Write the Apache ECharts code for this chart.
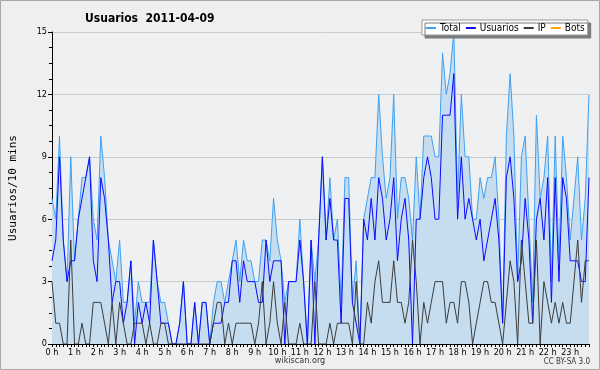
<!DOCTYPE html>
<html>
<head>
<meta charset="utf-8">
<script src="https://cdn.jsdelivr.net/npm/echarts@6/dist/echarts.min.js"></script>
<style>
html,body{margin:0;padding:0;background:#efefef;}
#chart{width:600px;height:370px;}
</style>
</head>
<body>
<div id="chart"></div>
<script>
const hourLabels = ['0 h','1 h','2 h','3 h','4 h','5 h','6 h','7 h','8 h','9 h','10 h','11 h','12 h','13 h','14 h','15 h','16 h','17 h','18 h','19 h','20 h','21 h','22 h','23 h'];
const yTicks = [0, 3, 6, 9, 12, 15];

const total = [
 7,6,10,5,3,9,4,6,8,8, 9,6,5,10,8,5,4,3,5,2, 2,4,1,3,2,2,2,5,3,2,
 2,1,0,0,1,3,0,0,2,0, 2,2,0,2,3,3,2,3,4,5, 3,5,4,4,3,3,5,5,4,7,
 5,4,2,3,3,3,6,3,0,5, 3,5,9,5,8,5,6,2,8,8, 2,4,0,6,7,8,8,12,9,7,
 8,12,6,8,8,7,5,9,6,10, 10,10,9,9,14,12,13,15,7,12, 9,9,6,6,8,7,8,8,9,6,
 1,10,13,10,3,9,10,6,2,11, 7,8,10,3,10,4,10,8,5,7, 9,5,7,12
];
const usuarios = [
 4,5,9,5,3,4,4,6,7,8, 9,4,3,8,7,5,2,3,3,1, 2,4,0,2,1,2,1,5,3,1,
 1,1,0,0,1,3,0,0,2,0, 2,2,0,1,1,1,2,2,4,4, 2,4,3,3,3,2,2,5,3,4,
 4,4,0,3,3,3,5,3,0,5, 0,5,9,5,7,5,5,1,7,7, 2,1,0,6,5,7,5,8,7,5,
 6,8,4,6,7,5,0,6,6,8, 9,8,6,6,11,11,11,13,6,9, 6,7,6,5,6,4,5,6,7,5,
 1,8,9,7,3,4,7,5,1,6, 7,5,8,2,8,3,8,7,4,4, 4,3,3,8
];
const ip = [
 3,1,1,0,0,5,0,0,1,0, 0,2,2,2,1,0,2,0,2,1, 0,0,1,1,1,0,1,0,0,1,
 1,0,0,0,0,0,0,0,0,0, 0,0,0,1,2,2,0,1,0,1, 1,1,1,1,0,1,3,0,1,3,
 1,0,2,0,0,0,1,0,0,0, 3,0,0,0,1,0,1,1,1,1, 0,3,0,0,2,1,3,4,2,2,
 2,4,2,2,1,2,5,3,0,2, 1,2,3,3,3,1,2,2,1,3, 3,2,0,1,2,3,3,2,2,1,
 0,2,4,3,0,5,3,1,1,5, 0,3,2,1,2,1,2,1,1,3, 5,2,4,4
];
const bots = [
 0,0,0,0,0,0,0,0,0,0, 0,0,0,0,0,0,0,0,0,0, 0,0,0,0,0,0,0,0,0,0,
 0,0,0,0,0,0,0,0,0,0, 0,0,0,0,0,0,0,0,0,0, 0,0,0,0,0,0,0,0,0,0,
 0,0,0,0,0,0,0,0,0,0, 0,0,0,0,0,0,0,0,0,0, 0,0,0,0,0,0,0,0,0,0,
 0,0,0,0,0,0,0,0,0,0, 0,0,0,0,0,0,0,0,0,0, 0,0,0,0,0,0,0,0,0,0,
 0,0,0,0,0,0,0,0,0,0, 0,0,0,0,0,0,0,0,0,0, 0,0,0,0
];

// 10-minute slots, one category per slot
const slots = [];
hourLabels.forEach(function (h, hi) {
  for (let m = 0; m < 6; m++) slots.push(hi + ':' + m + '0');
});

const chart = echarts.init(document.getElementById('chart'), null, {renderer: 'canvas'});
const font = "'DejaVu Sans Condensed', 'Liberation Sans', sans-serif";
chart.setOption({
  animation: false,
  backgroundColor: '#efefef',
  title: {
    text: 'Usuarios  2011-04-09',
    left: 80, top: 8,
    textStyle: {fontFamily: font, fontWeight: 'bold', fontSize: 12, color: '#000'}
  },
  legend: {
    data: ['Total', 'Usuarios', 'IP', 'Bots'],
    left: 422, top: 20, width: 200,
    padding: [3, 3, 2, 3],
    itemGap: 4, itemWidth: 10, itemHeight: 2,
    backgroundColor: '#fff',
    borderColor: '#999', borderWidth: 1,
    shadowColor: '#7a7a7a', shadowOffsetX: 3, shadowOffsetY: 3, shadowBlur: 0,
    textStyle: {fontFamily: font, fontSize: 10, color: '#000', padding: [0, 0, 0, -1]}
  },
  grid: {left: 46, right: 11, top: 32, bottom: 26, show: true, backgroundColor: '#eef0f2', borderWidth: 0},
  xAxis: {
    type: 'category',
    data: slots,
    boundaryGap: false,
    z: 10,
    axisLine: {show: true, lineStyle: {color: '#000', width: 1}},
    axisTick: {show: true, interval: 0, length: 3, lineStyle: {color: '#000'}},
    axisLabel: {
      interval: 5, margin: 4,
      fontFamily: font, fontSize: 9, color: '#000',
      formatter: function (v, idx) { return hourLabels[Math.round(idx / 6)]; }
    },
    splitLine: {show: false}
  },
  yAxis: {
    type: 'value',
    min: yTicks[0], max: yTicks[yTicks.length - 1], interval: 3,
    name: 'Usuarios/10 mins',
    nameLocation: 'middle',
    nameGap: 33,
    nameRotate: 90,
    nameTextStyle: {fontFamily: 'DejaVu Sans Mono', fontSize: 11, color: '#000'},
    axisLine: {show: true, lineStyle: {color: '#000', width: 1}},
    axisTick: {show: true, length: 4, lineStyle: {color: '#000'}},
    minorTick: {show: true, splitNumber: 4, length: 3, lineStyle: {color: '#000'}},
    axisLabel: {fontFamily: font, fontSize: 9, color: '#000', margin: 5},
    splitLine: {show: true, lineStyle: {color: '#cacaca', width: 1}}
  },
  series: [
    {name: 'Total', type: 'line', data: total, symbol: 'none', z: 2,
     lineStyle: {color: '#3fa0f0', width: 1}, itemStyle: {color: '#3fa0f0'},
     areaStyle: {color: '#c6ddf0', opacity: 1}},
    {name: 'Usuarios', type: 'line', data: usuarios, symbol: 'none', z: 3,
     lineStyle: {color: '#0a0aff', width: 1}, itemStyle: {color: '#0a0aff'}},
    {name: 'IP', type: 'line', data: ip, symbol: 'none', z: 4,
     lineStyle: {color: '#3c3c3c', width: 1}, itemStyle: {color: '#3c3c3c'}},
    {name: 'Bots', type: 'line', data: bots, symbol: 'none', z: 1,
     lineStyle: {color: '#ffa500', width: 1}, itemStyle: {color: '#ffa500'}}
  ],
  graphic: [
    {type: 'rect', silent: true, shape: {x: 0.5, y: 0.5, width: 599, height: 369},
     style: {fill: 'none', stroke: '#a8a8a8', lineWidth: 1}},
    {type: 'text', left: 'center', top: 356,
     style: {text: 'wikiscan.org', font: "9px 'DejaVu Sans Condensed', 'Liberation Sans'", fill: '#333'}},
    {type: 'text', right: 10, bottom: 4,
     style: {text: 'CC BY-SA 3.0', font: "8px 'DejaVu Sans Condensed', 'Liberation Sans'", fill: '#333'}}
  ]
});
</script>
</body>
</html>
